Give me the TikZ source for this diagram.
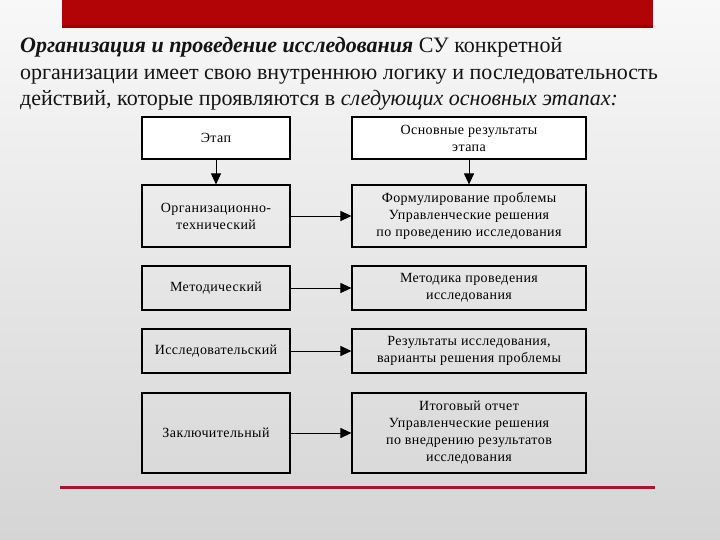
\documentclass[tikz,border=0pt]{standalone}
\usepackage{fontspec}
\setmainfont{Liberation Serif}
\newfontfamily\boxfont[LetterSpace=3]{Liberation Serif}
\usetikzlibrary{arrows.meta}
\definecolor{bannerred}{RGB}{178,4,6}
\definecolor{bannerdark}{RGB}{150,0,0}
\definecolor{linered}{RGB}{172,18,40}
\definecolor{bgtop}{RGB}{248,248,248}
\definecolor{bgbot}{RGB}{213,213,213}
\begin{document}
\begin{tikzpicture}[x=1pt,y=-1pt,
  box/.style={draw=black, line width=1.1pt, inner sep=0pt, align=center,
    font=\boxfont\fontsize{14}{17}\selectfont, text=black},
  leftbox/.style={box, minimum width=148pt},
  rightbox/.style={box, minimum width=234pt},
  headbox/.style={fill=white, line width=1.5pt},
  arr/.style={draw=black, line width=0.9pt, -{Triangle[length=11pt,width=10pt]}},
  title/.style={anchor=base west, inner sep=0pt, font=\fontsize{22}{26}\selectfont, text=black!92}]
\useasboundingbox (0,0) rectangle (720,540);
\shade[top color=bgtop, bottom color=bgbot] (0,0) rectangle (720,540);
% banner
\fill[bannerred] (62,0) rectangle (653,28);
\fill[bannerdark] (62,25) rectangle (653,28);
% title
\node[title] (t1) at (20,53) {\textbf{\textit{Организация и проведение исследования}} СУ конкретной};
\node[title] (t2) at (20,80) {организации имеет свою внутреннюю логику и последовательность};
\node[title] (t3) at (20,106) {действий, которые проявляются в \textit{следующих основных этапах:}};
% boxes
\node[leftbox, headbox, minimum height=42pt] (a0) at (216,138) {Этап};
\node[rightbox, headbox, minimum height=42pt] (b0) at (469,138) {Основные результаты\\этапа};
\node[leftbox, minimum height=62pt] (a1) at (216,216) {Организационно-\\технический};
\node[rightbox, minimum height=62pt] (b1) at (469,216) {Формулирование проблемы\\Управленческие решения\\по проведению исследования};
\node[leftbox, minimum height=44pt] (a2) at (216,288) {Методический};
\node[rightbox, minimum height=44pt] (b2) at (469,288) {Методика проведения\\исследования};
\node[leftbox, minimum height=44pt] (a3) at (216,351) {Исследовательский};
\node[rightbox, minimum height=44pt] (b3) at (469,351) {Результаты исследования,\\варианты решения проблемы};
\node[leftbox, minimum height=80pt] (a4) at (216,433) {Заключительный};
\node[rightbox, minimum height=80pt] (b4) at (469,433) {Итоговый отчет\\Управленческие решения\\по внедрению результатов\\исследования};
% arrows
\draw[arr] (a0.south) -- (a1.north);
\draw[arr] (b0.south) -- (b1.north);
\draw[arr] (a1.east) -- (b1.west);
\draw[arr] (a2.east) -- (b2.west);
\draw[arr] (a3.east) -- (b3.west);
\draw[arr] (a4.east) -- (b4.west);
% bottom line
\draw[linered, line width=3pt] (60,487) -- (655,487);
\end{tikzpicture}
\end{document}
